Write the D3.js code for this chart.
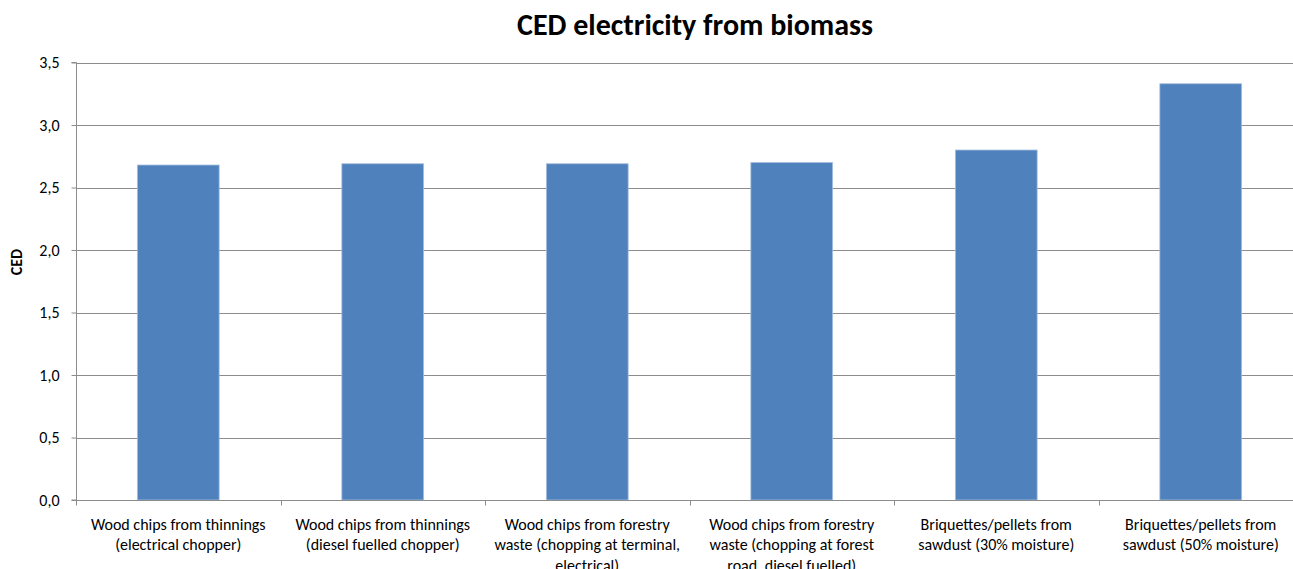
<!DOCTYPE html>
<html><head><meta charset="utf-8">
<script src="https://cdn.jsdelivr.net/npm/d3@7"></script>
<style>body{margin:0;background:#fff;} svg{display:block;} text{font-family:Carlito,Calibri,Lato,sans-serif;fill:#000;}</style>
</head><body>
<script>
const categories = [
  ["Wood chips from thinnings","(electrical chopper)"],
  ["Wood chips from thinnings","(diesel fuelled chopper)"],
  ["Wood chips from forestry","waste (chopping at terminal,","electrical)"],
  ["Wood chips from forestry","waste (chopping at forest","road, diesel fuelled)"],
  ["Briquettes/pellets from","sawdust (30% moisture)"],
  ["Briquettes/pellets from","sawdust (50% moisture)"]
];
const values = [2.68, 2.69, 2.69, 2.70, 2.80, 3.33];
const yTicks = [0, 0.5, 1.0, 1.5, 2.0, 2.5, 3.0, 3.5];
const chartTitle = "CED electricity from biomass";
const yTitle = "CED";

(function() {
const W = 1293, H = 569;
const FONT = "Carlito,Calibri,Lato,sans-serif";
const svg = d3.select("body").append("svg").attr("width", W).attr("height", H);
const pL = 76, pR = 1303, pT = 62.5, pB = 500;

const x = d3.scaleBand().domain(d3.range(categories.length)).range([pL, pR]).paddingInner(0).paddingOuter(0);
const y = d3.scaleLinear().domain([0, 3.5]).range([pB, pT]);

svg.append("g").selectAll("line").data(yTicks.filter(d => d > 0)).join("line")
  .attr("x1", pL).attr("x2", pR)
  .attr("y1", d => Math.round(y(d)) + 0.5).attr("y2", d => Math.round(y(d)) + 0.5)
  .attr("stroke", "#8c8c8c").attr("stroke-width", 1);

const bw = x.bandwidth() * 0.4;
svg.append("g").selectAll("rect").data(values).join("rect")
  .attr("x", (d, i) => x(i) + (x.bandwidth() - bw) / 2)
  .attr("width", bw)
  .attr("y", d => y(d))
  .attr("height", d => y(0) - y(d))
  .attr("fill", "#4f81bd")
  .attr("stroke", "#a7c0de").attr("stroke-width", 0.8);

const ya = svg.append("g").attr("transform", `translate(${pL + 0.5},0)`)
  .call(d3.axisLeft(y).tickValues(yTicks).tickSize(5).tickPadding(12)
    .tickFormat(d => d3.format(".1f")(d).replace(".", ",")));
ya.select(".domain").attr("stroke", "#8c8c8c").attr("d", `M-5,${pB}H0V${pT}H-5`);
ya.selectAll(".tick line").attr("stroke", "#8c8c8c");
ya.selectAll(".tick text").attr("font-size", 16).attr("fill", "#000").style("font-family", FONT);

const xa = svg.append("g").attr("transform", `translate(0,${Math.round(pB) + 0.5})`);
xa.append("line").attr("x1", pL).attr("x2", pR).attr("stroke", "#8c8c8c");
xa.selectAll(".tk").data(d3.range(categories.length + 1)).join("line")
  .attr("x1", i => Math.round(pL + i * x.step()) + 0.5).attr("x2", i => Math.round(pL + i * x.step()) + 0.5)
  .attr("y1", 0).attr("y2", 5).attr("stroke", "#8c8c8c");
const lbl = xa.selectAll(".lbl").data(categories).join("text")
  .attr("text-anchor", "middle").attr("font-size", 16)
  .attr("x", (d, i) => x(i) + x.bandwidth() / 2).attr("y", 29);
lbl.selectAll("tspan").data(d => d).join("tspan")
  .attr("x", function() { return this.parentNode.getAttribute("x"); })
  .attr("dy", (d, i) => i === 0 ? 0 : 20.5)
  .text(d => d);

svg.append("text").attr("x", 695).attr("y", 35).attr("text-anchor", "middle")
  .attr("font-size", 30).attr("font-weight", "bold").text(chartTitle);

svg.append("text").attr("transform", "translate(22,262) rotate(-90)").attr("text-anchor", "middle")
  .attr("font-size", 16).attr("font-weight", "bold").text(yTitle);
})();
</script>
</body></html>
